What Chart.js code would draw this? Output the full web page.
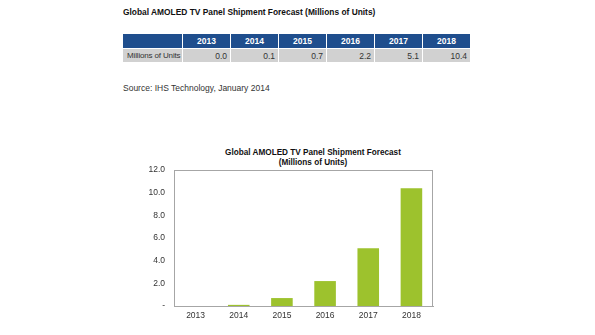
<!DOCTYPE html>
<html lang="en">
<head>
<meta charset="UTF-8">
<title>Global AMOLED TV Panel Shipment Forecast</title>
<script src="https://cdn.jsdelivr.net/npm/chart.js"></script>
<style>
  body { margin: 0; width: 595px; height: 335px; background: #fff; font-family: Arial, "Liberation Sans", sans-serif; position: relative; overflow: hidden; }
  #title { position: absolute; left: 123px; top: 7px; font-size: 8.4px; font-weight: bold; color: #111; white-space: nowrap; }
  #tbl { position: absolute; left: 122px; top: 33px; border-collapse: collapse; table-layout: fixed; width: 349px; font-size: 8.5px; white-space: nowrap; }
  #tbl td, #tbl th { border: 1px solid #fff; padding: 0 3px; }
  #tbl th { background: #1f4e8d; color: #fff; font-weight: bold; text-align: center; height: 14px; }
  #tbl td { background: #d1d1d1; color: #333; text-align: right; height: 13px; }
  #tbl td.first { text-align: left; padding: 0 0 0 4px; font-size: 8px; letter-spacing: -0.15px; overflow: visible; }
  #source { position: absolute; left: 123px; top: 83px; font-size: 8.5px; color: #333; white-space: nowrap; }
  #ctitle { position: absolute; left: 213px; width: 200px; top: 148px; text-align: center; font-size: 8.2px; font-weight: bold; color: #111; line-height: 10px; }
  #wrap { position: absolute; left: 110px; top: 145px; width: 406px; height: 185px; }
</style>
</head>
<body>
<div id="title">Global AMOLED TV Panel Shipment Forecast (Millions of Units)</div>
<table id="tbl"><colgroup id="cols"></colgroup><thead><tr id="hdr"></tr></thead><tbody><tr id="row"></tr></tbody></table>
<div id="source">Source: IHS Technology, January 2014</div>
<div id="ctitle">Global AMOLED TV Panel Shipment Forecast<br>(Millions of Units)</div>
<div id="wrap"><canvas id="chart" width="406" height="185"></canvas></div>
<script>
// data
const years = ['2013', '2014', '2015', '2016', '2017', '2018'];
const units = [0.0, 0.1, 0.7, 2.2, 5.1, 10.4];
const rowLabel = 'Millions of Units';
const yTicks = [0, 2, 4, 6, 8, 10, 12];

// table on top
document.getElementById('cols').innerHTML = '<col style="width:60px">' + years.map(() => '<col style="width:48px">').join('');
document.getElementById('hdr').innerHTML = '<th></th>' + years.map(y => '<th>' + y + '</th>').join('');
document.getElementById('row').innerHTML = '<td class="first">' + rowLabel + '</td>' + units.map(v => '<td>' + v.toFixed(1) + '</td>').join('');

// frame round the plot area
const frame = {
  id: 'frame',
  afterDraw(chart) {
    const a = chart.chartArea, c = chart.ctx;
    c.save();
    c.strokeStyle = '#a6a6a6';
    c.lineWidth = 1;
    c.strokeRect(a.left + 0.5, a.top + 0.5, a.right - a.left - 1, a.bottom - a.top);
    c.restore();
  }
};

const font = { family: 'Arial, "Liberation Sans", sans-serif', size: 8.5 };

new Chart(document.getElementById('chart'), {
  type: 'bar',
  data: {
    labels: years,
    datasets: [{ data: units, backgroundColor: '#9dc22d', barPercentage: 0.5, categoryPercentage: 1 }]
  },
  options: {
    responsive: false,
    animation: false,
    layout: { padding: { left: 0, right: 83, top: 25, bottom: 0 } },
    plugins: {
      legend: { display: false },
      tooltip: { enabled: false },
      title: { display: false }
    },
    scales: {
      x: {
        grid: { display: false, drawTicks: false },
        border: { color: '#a6a6a6' },
        ticks: { color: '#333', font: font, padding: 5 },
        afterFit(s) { s.height = 24; }
      },
      y: {
        min: 0, max: 12,
        afterBuildTicks(s) { s.ticks = yTicks.map(v => ({ value: v })); },
        grid: { display: false, drawTicks: false },
        border: { color: '#a6a6a6' },
        ticks: { color: '#333', font: font, padding: 9, callback: v => v === 0 ? '-' : v.toFixed(1) },
        afterFit(s) { s.width = 64; }
      }
    }
  },
  plugins: [frame]
});
</script>
</body>
</html>
